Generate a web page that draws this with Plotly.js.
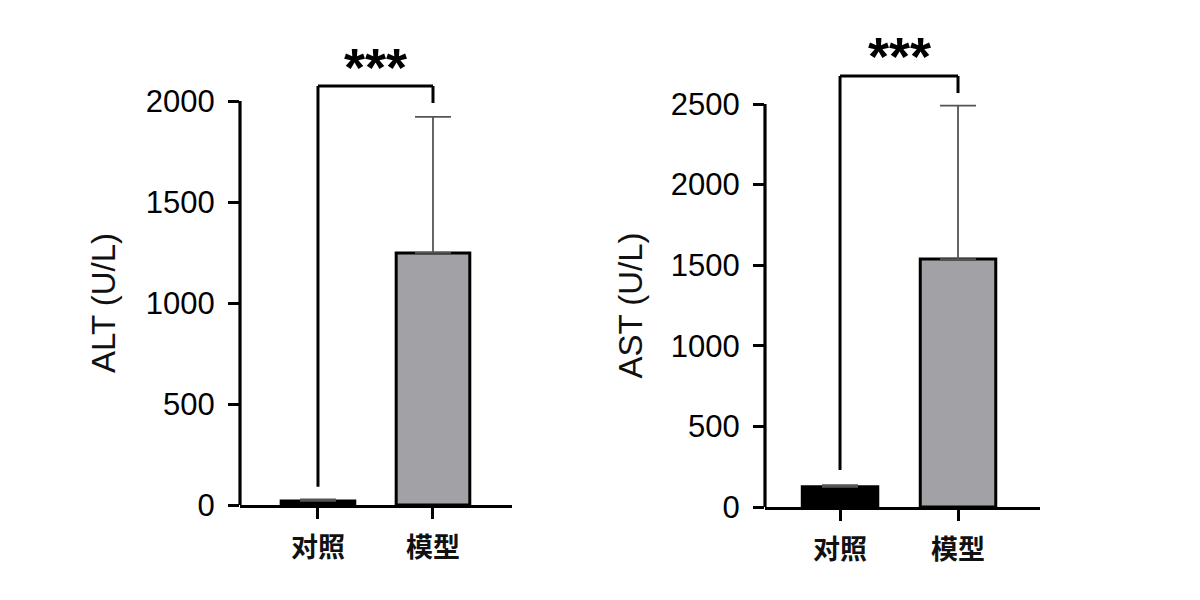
<!DOCTYPE html>
<html>
<head>
<meta charset="utf-8">
<script src="https://cdn.plot.ly/plotly-3.0.1.min.js"></script>
<style>html,body{margin:0;padding:0;background:#fff;}#chart{width:1200px;height:600px;}</style>
</head>
<body>
<div id="chart"></div>
<script>
// ---- data ----
const categories = ['对照', '模型'];
const altMeans = [20, 1248];
const altErrors = [8, 673];
const astMeans = [125, 1538];
const astErrors = [10, 952];
const altTicks = [0, 500, 1000, 1500, 2000];
const astTicks = [0, 500, 1000, 1500, 2000, 2500];
const sigLabel = '***';
const altTitle = 'ALT (U/L)';
const astTitle = 'AST (U/L)';
const barColors = ['#000000', '#a2a2a6'];

const numFont = {family: 'Liberation Sans, Arial, sans-serif', size: 31, color: '#000'};
const cjkFont = {family: 'Noto Sans CJK SC, sans-serif', size: 27, color: '#111', weight: 'bold'};

function barTrace(means, errs, xa, ya) {
  return {
    type: 'bar', x: categories, y: means, xaxis: xa, yaxis: ya, width: 0.64,
    marker: {color: barColors, line: {color: '#000', width: 3}},
    error_y: {type: 'data', array: errs, arrayminus: errs.map(() => 0), symmetric: false,
              color: '#555', thickness: 1.8, width: 18},
    showlegend: false, hoverinfo: 'skip'
  };
}

function axisY(ticks, range, domain, anchor) {
  return {
    domain: domain, range: range, anchor: anchor, tickvals: ticks,
    ticktext: ticks.map(String), ticks: 'outside', ticklen: 11, tickwidth: 3,
    tickcolor: '#000', showline: false, showgrid: false, zeroline: false,
    tickfont: numFont, ticklabelstandoff: 7
  };
}
function axisX(range, domain, anchor) {
  return {
    domain: domain, range: range, anchor: anchor, type: 'category',
    ticks: 'outside', ticklen: 11, tickwidth: 3, tickcolor: '#000',
    showline: true, linewidth: 3, linecolor: '#000', showgrid: false,
    tickfont: cjkFont, ticklabelstandoff: 6
  };
}

const altMax = altTicks[altTicks.length - 1];
const astMax = astTicks[astTicks.length - 1];

function bracket(xa, ya, yTop, yL, yR) {
  const line = {color: '#000', width: 3};
  return [
    {type: 'line', xref: xa, yref: ya, x0: categories[0], x1: categories[0], y0: yL, y1: yTop, line: line},
    {type: 'line', xref: xa, yref: ya, x0: categories[0], x1: categories[1], y0: yTop, y1: yTop, line: line},
    {type: 'line', xref: xa, yref: ya, x0: categories[1], x1: categories[1], y0: yTop, y1: yR, line: line}
  ];
}

const shapes = [
  {type: 'line', xref: 'x domain', yref: 'y', x0: 0, x1: 0, y0: 0, y1: altMax, line: {color: '#000', width: 3.2}},
  {type: 'line', xref: 'x2 domain', yref: 'y2', x0: 0, x1: 0, y0: 0, y1: astMax, line: {color: '#000', width: 3.2}}
].concat(bracket('x', 'y', 2074, 90, 1990)).concat(bracket('x2', 'y2', 2674, 230, 2568));

const starFont = {family: 'Liberation Sans, Arial', size: 54, color: '#000', weight: 'bold'};
const titleFont = {family: 'Liberation Sans, Arial', size: 33, color: '#111'};
const annotations = [
  {xref: 'x', yref: 'y', x: 0.5, y: 2170, text: sigLabel, showarrow: false, font: starFont},
  {xref: 'x2', yref: 'y2', x: 0.5, y: 2800, text: sigLabel, showarrow: false, font: starFont},
  {xref: 'paper', yref: 'y', x: 103/1200, y: altMax / 2, xanchor: 'center', yanchor: 'middle',
   text: altTitle, textangle: -90, showarrow: false, font: titleFont},
  {xref: 'paper', yref: 'y2', x: 630/1200, y: astMax / 2, xanchor: 'center', yanchor: 'middle',
   text: astTitle, textangle: -90, showarrow: false, font: titleFont}
];

const layout = {
  width: 1200, height: 600, margin: {l: 0, r: 0, t: 0, b: 0},
  paper_bgcolor: '#fff', plot_bgcolor: 'rgba(0,0,0,0)', showlegend: false,
  xaxis: axisX([-0.678, 1.687], [240/1200, 512/1200], 'y'),
  yaxis: axisY(altTicks, [0, 2302], [1 - 505/600, 1 - 40/600], 'x'),
  xaxis2: axisX([-0.636, 1.695], [765/1200, 1040/1200], 'y2'),
  yaxis2: axisY(astTicks, [0, 2897], [1 - 507/600, 1 - 40/600], 'x2'),
  shapes: shapes, annotations: annotations
};

Plotly.newPlot('chart', [barTrace(altMeans, altErrors, 'x', 'y'), barTrace(astMeans, astErrors, 'x2', 'y2')],
  layout, {staticPlot: true, displayModeBar: false});
</script>
</body>
</html>
